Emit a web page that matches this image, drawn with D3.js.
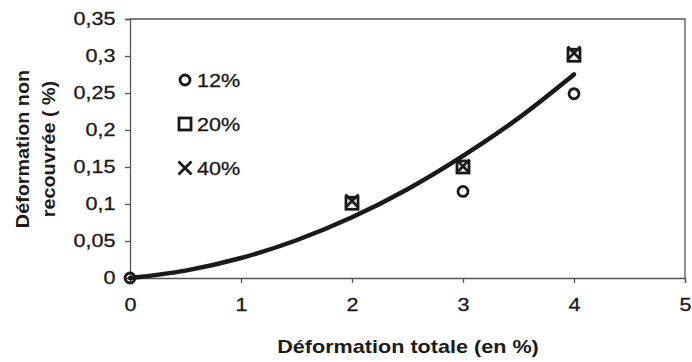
<!DOCTYPE html>
<html>
<head>
<meta charset="utf-8">
<script src="https://cdn.jsdelivr.net/npm/d3@7"></script>
<style>
  body { margin: 0; background: #fff; }
  text { font-family: "Liberation Sans", Arial, sans-serif; fill: #1a1a1a; }
</style>
</head>
<body>
<div id="chart"></div>
<script>
// valeurs
const xTicks = [0, 1, 2, 3, 4, 5];
const yTicks = [0, 0.05, 0.1, 0.15, 0.2, 0.25, 0.3, 0.35];
const seriesNames = ["12%", "20%", "40%"];
const seriesShapes = ["circle", "square", "cross"];
const x12 = [0, 3, 4];
const y12 = [0, 0.117, 0.249];
const x20 = [2, 3, 4];
const y20 = [0.101, 0.150, 0.301];
const x40 = [2, 3, 4];
const y40 = [0.104, 0.151, 0.304];
// courbe de tendance
const curveX = [0, 0.5, 1, 1.5, 2, 2.5, 3, 3.5, 4];
const curveY = [0, 0.010, 0.027, 0.051, 0.082, 0.120, 0.165, 0.216, 0.275];

const width = 692, height = 362;
const margin = {top: 19, right: 7, bottom: 84, left: 130};
const stretch = 1.2;  // le texte de la figure est un peu étiré en largeur

const svg = d3.select("#chart").append("svg")
    .attr("width", width)
    .attr("height", height);

const x = d3.scaleLinear().domain([0, 5]).range([margin.left, width - margin.right]);
const y = d3.scaleLinear().domain([0, 0.35]).range([height - margin.bottom, margin.top]);

const fmt = d => d3.format("~g")(d).replace(".", ",");

// cadre haut et droit
svg.append("path")
    .attr("d", `M${x(0)},${y(0.35)}H${x(5)}V${y(0)}`)
    .attr("fill", "none")
    .attr("stroke", "#555")
    .attr("stroke-width", 1.3);

const xAxis = svg.append("g")
    .attr("transform", `translate(0,${y(0)})`)
    .call(d3.axisBottom(x).tickValues(xTicks).tickSize(5).tickPadding(15).tickFormat(d3.format("d")));

const yAxis = svg.append("g")
    .attr("transform", `translate(${x(0)},0)`)
    .call(d3.axisLeft(y).tickValues(yTicks).tickSize(5).tickPadding(7).tickFormat(fmt));

[xAxis, yAxis].forEach(a => {
    a.select(".domain").attr("stroke", "#555").attr("stroke-width", 1.3);
    a.selectAll(".tick line").attr("stroke", "#555").attr("stroke-width", 1.3);
    a.selectAll("text")
        .attr("font-size", 18)
        .attr("fill", "#1a1a1a")
        .attr("stroke", "#1a1a1a")
        .attr("stroke-width", 0.3)
        .attr("transform", `scale(${stretch},1)`);
});
xAxis.selectAll("text").attr("dy", "0.71em");

// titres
svg.append("text")
    .attr("transform", `translate(408,353) scale(${stretch},1)`)
    .attr("text-anchor", "middle")
    .attr("font-size", 18)
    .attr("font-weight", "bold")
    .text("Déformation totale (en %)");

const yTitle = svg.append("text")
    .attr("transform", "translate(0,149) rotate(-90) scale(1.1,1)")
    .attr("text-anchor", "middle")
    .attr("font-size", 18)
    .attr("font-weight", "bold");
yTitle.append("tspan").attr("x", 0).attr("y", 29).text("Déformation non");
yTitle.append("tspan").attr("x", 0).attr("y", 55).text("recouvrée ( %)");

// courbe
const curveData = curveX.map((d, i) => [d, curveY[i]]);
svg.append("path")
    .datum(curveData)
    .attr("fill", "none")
    .attr("stroke", "#1a1a1a")
    .attr("stroke-width", 4.5)
    .attr("stroke-linecap", "round")
    .attr("d", d3.line().x(d => x(d[0])).y(d => y(d[1])).curve(d3.curveMonotoneX));

function drawMarker(g, shape) {
    if (shape === "circle") {
        g.append("circle").attr("r", 5)
            .attr("fill", "none").attr("stroke", "#1a1a1a").attr("stroke-width", 2.8);
    } else if (shape === "square") {
        g.append("rect").attr("x", -6).attr("y", -6).attr("width", 12).attr("height", 12)
            .attr("fill", "none").attr("stroke", "#1a1a1a").attr("stroke-width", 2.8);
    } else {
        g.append("path").attr("d", "M-6.5,-6.5L6.5,6.5M-6.5,6.5L6.5,-6.5")
            .attr("fill", "none").attr("stroke", "#1a1a1a").attr("stroke-width", 2.8);
    }
}

const series = [
    {xs: x12, ys: y12},
    {xs: x20, ys: y20},
    {xs: x40, ys: y40}
];

series.forEach((s, i) => {
    s.xs.forEach((xv, j) => {
        const g = svg.append("g").attr("transform", `translate(${x(xv)},${y(s.ys[j])})`);
        drawMarker(g, seriesShapes[i]);
    });
});

// légende
seriesNames.forEach((name, i) => {
    const ly = 80 + i * 44;
    const g = svg.append("g").attr("transform", `translate(185,${ly})`);
    drawMarker(g, seriesShapes[i]);
    svg.append("text")
        .attr("transform", `translate(197,${ly + 7}) scale(${stretch},1)`)
        .attr("font-size", 18)
        .attr("stroke", "#1a1a1a")
        .attr("stroke-width", 0.3)
        .text(name);
});
</script>
</body>
</html>
